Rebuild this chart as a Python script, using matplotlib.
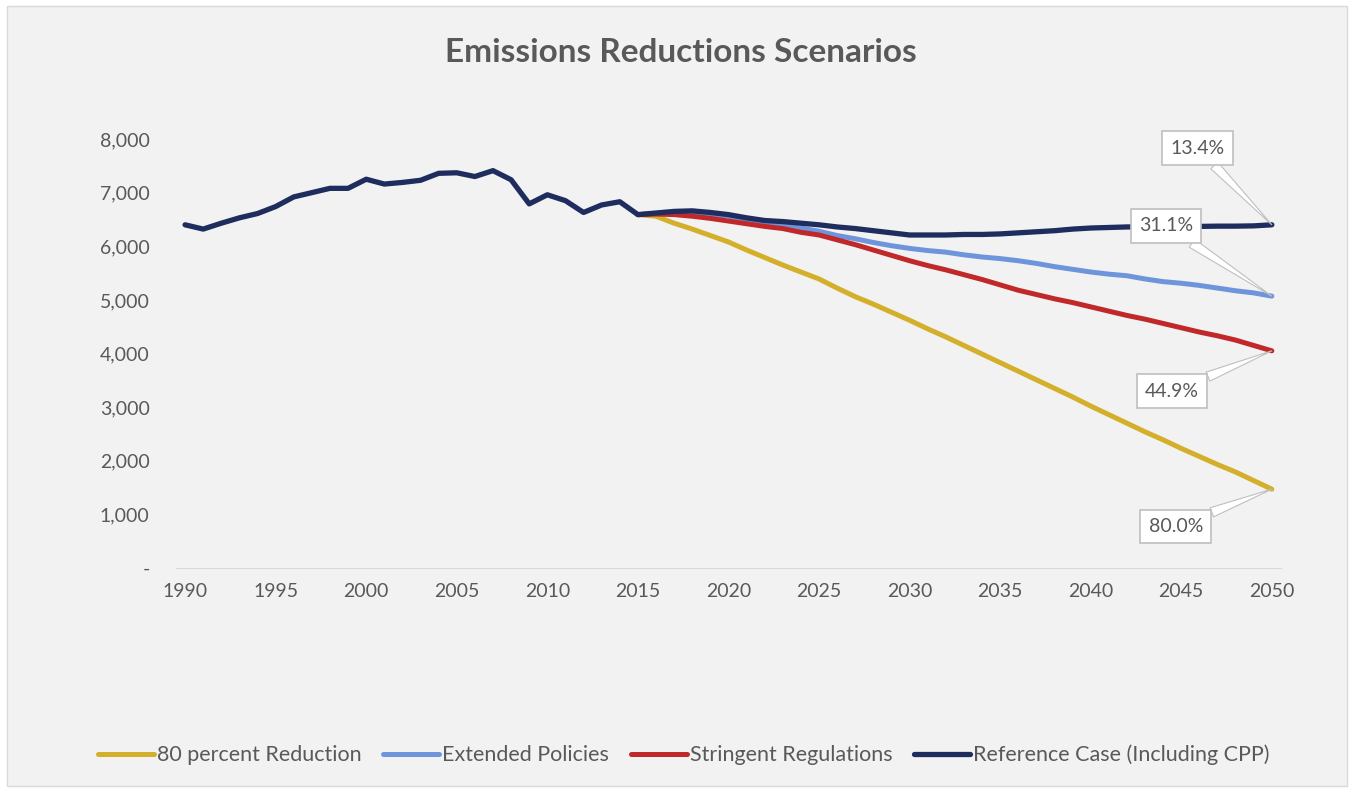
import numpy as np
import matplotlib.pyplot as plt
from matplotlib.patches import Rectangle
from matplotlib.ticker import FuncFormatter

plt.rcParams['font.family'] = ['Lato', 'DejaVu Sans']

# historico 1990-2015
anios_hist = list(range(1990, 2016))
hist = [6400, 6320, 6430, 6530, 6610, 6740, 6920, 7000, 7080, 7080,
        7250, 7160, 7190, 7230, 7360, 7370, 7300, 7410, 7240, 6790,
        6960, 6850, 6630, 6770, 6830, 6590]

# proyecciones 2015-2050
anios_proy = list(range(2015, 2051))
reduccion_80 = [6590, 6560, 6430, 6320, 6200, 6080, 5930, 5790, 5650, 5520,
                5390, 5220, 5060, 4920, 4770, 4620, 4460, 4310, 4150, 3990,
                3830, 3670, 3510, 3350, 3190, 3020, 2860, 2700, 2540, 2390,
                2230, 2080, 1930, 1790, 1630, 1470]
extendidas = [6590, 6610, 6630, 6640, 6600, 6560, 6500, 6440, 6390, 6340,
              6280, 6200, 6140, 6070, 6010, 5960, 5920, 5890, 5840, 5800,
              5770, 5730, 5680, 5620, 5570, 5520, 5480, 5450, 5390, 5340,
              5310, 5270, 5220, 5170, 5130, 5070]
estrictas = [6590, 6600, 6590, 6560, 6520, 6470, 6420, 6370, 6330, 6260,
             6210, 6120, 6030, 5930, 5830, 5730, 5640, 5560, 5470, 5380,
             5280, 5180, 5100, 5020, 4950, 4870, 4790, 4710, 4640, 4560,
             4480, 4400, 4330, 4250, 4150, 4050]
referencia = [6590, 6620, 6650, 6660, 6630, 6590, 6530, 6480, 6460, 6430,
              6400, 6360, 6330, 6290, 6250, 6210, 6210, 6210, 6220, 6220,
              6230, 6250, 6270, 6290, 6320, 6340, 6350, 6360, 6360, 6370,
              6370, 6370, 6375, 6375, 6380, 6400]

nombres = ['80 percent Reduction', 'Extended Policies', 'Stringent Regulations',
           'Reference Case (Including CPP)']
colores = ['#D4AF2B', '#6E95DC', '#C0282A', '#1F2D5E']
etiquetas = ['80.0%', '31.1%', '44.9%', '13.4%']
pos_etiquetas = [(2044.7, 780), (2044.15, 6380), (2044.5, 3300), (2045.9, 7830)]

gris = '#595959'
fondo = '#F2F2F2'

fig = plt.figure(figsize=(13.54, 7.92), dpi=100)
fig.patch.set_facecolor('white')
fig.patches.append(Rectangle((0.005, 0.008), 0.99, 0.984, transform=fig.transFigure,
                             facecolor=fondo, edgecolor='#D9D9D9', linewidth=1, zorder=-10))
ax = fig.add_axes([0.130, 0.2828, 0.816, 0.5417])
ax.set_facecolor(fondo)

series = [reduccion_80, extendidas, estrictas]
for i, s in enumerate(series):
    ax.plot(anios_proy, s, color=colores[i], linewidth=3.6, label=nombres[i],
            solid_capstyle='round', solid_joinstyle='round', zorder=2 + i)
ref_x = anios_hist + anios_proy[1:]
ref_y = hist + referencia[1:]
ax.plot(ref_x, ref_y, color=colores[3], linewidth=3.8, label=nombres[3],
        solid_capstyle='round', solid_joinstyle='round', zorder=6)

finales = [reduccion_80[-1], extendidas[-1], estrictas[-1], referencia[-1]]
for i in range(4):
    ax.annotate(etiquetas[i], xy=(2050, finales[i]), xytext=pos_etiquetas[i],
                ha='center', va='center', fontsize=14, color=gris,
                bbox=dict(boxstyle='square,pad=0.42', fc='white', ec='#BFBFBF', lw=1.2),
                arrowprops=dict(arrowstyle='wedge,tail_width=0.5', fc='white',
                                ec='#BFBFBF', lw=0.8, shrinkA=0, shrinkB=0),
                zorder=10)

ax.set_xlim(1989.5, 2050.5)
ax.set_ylim(0, 8000)
ax.set_xticks(range(1990, 2051, 5))
ax.set_yticks(range(0, 8001, 1000))
ax.yaxis.set_major_formatter(FuncFormatter(lambda v, p: '-' if v == 0 else f'{v:,.0f}'))
ax.tick_params(axis='both', length=0, labelsize=14, colors=gris)
ax.tick_params(axis='x', pad=11)
ax.tick_params(axis='y', pad=19)
for lado in ['top', 'right', 'left']:
    ax.spines[lado].set_visible(False)
ax.spines['bottom'].set_color('#D9D9D9')

fig.text(0.503, 0.934, 'Emissions Reductions Scenarios', ha='center', va='center',
         fontsize=24, fontweight='bold', color=gris)

fig.legend(loc='center', bbox_to_anchor=(0.505, 0.047), ncol=4, frameon=False,
           fontsize=15.5, handlelength=2.6, handletextpad=0.15, columnspacing=1.0,
           labelcolor=gris)

plt.savefig('out.png', dpi=100, facecolor=fig.get_facecolor())
